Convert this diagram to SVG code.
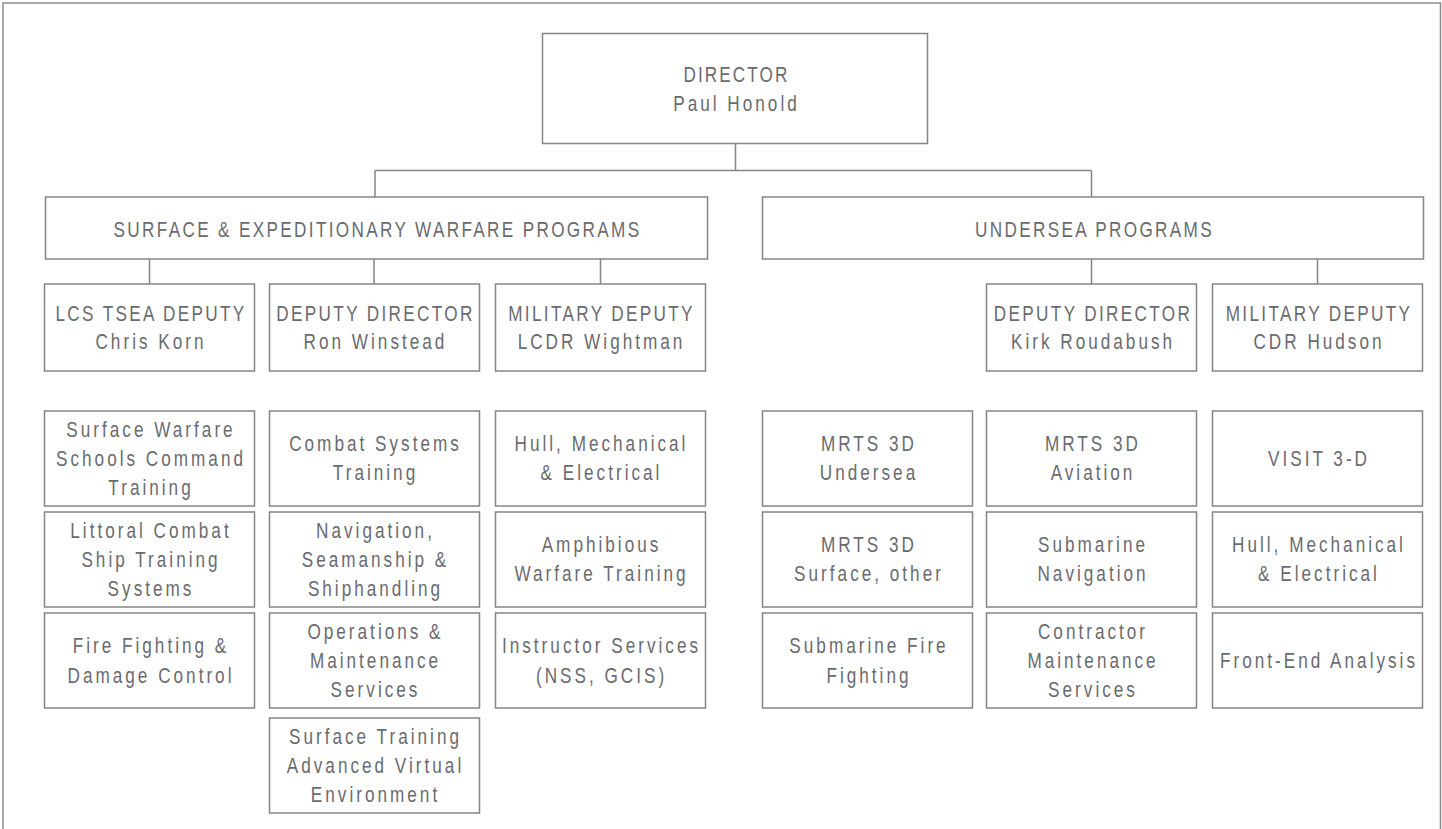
<svg xmlns="http://www.w3.org/2000/svg" width="1442" height="829" viewBox="0 0 1442 829">
<style>
.b{fill:#fff;stroke:#858585;stroke-width:1.5}
.c{fill:none;stroke:#858585;stroke-width:1.5}
.f{fill:none;stroke:#8c8c8c;stroke-width:1.5}
text{font-family:"Liberation Sans",Arial,sans-serif;font-size:22px;fill:#6a6b6f;text-anchor:middle;letter-spacing:3.85px}
.k{letter-spacing:3px}
.d{letter-spacing:2.7px}
</style>
<rect width="1442" height="829" fill="#fff"/>
<path class="f" d="M3,840 V3 H1440.5 V840"/>
<g id="connectors">
<path class="c" d="M735.5,143 V170.5 M375,170.5 H1091.5 M375,170.5 V197 M1091.5,170.5 V197"/>
<path class="c" d="M149.5,259 V284 M374,259 V284 M600.5,259 V284 M1091.5,259 V284 M1317.5,259 V284"/>
</g>
<g id="director"><rect class="b" x="542.5" y="33.5" width="385" height="110"/><text transform="translate(736.5 0) scale(.78 1)"><tspan class="d" x="0" y="82.5">DIRECTOR</tspan><tspan x="0" y="111">Paul Honold</tspan></text></g>
<g id="surface"><rect class="b" x="45.5" y="197" width="662" height="62"/><text class="k" transform="translate(377.5 0) scale(.78 1)"><tspan x="0" y="237.5">SURFACE &amp; EXPEDITIONARY WARFARE PROGRAMS</tspan></text></g>
<g id="undersea"><rect class="b" x="762.5" y="197" width="661" height="62"/><text class="k" transform="translate(1094.5 0) scale(.78 1)"><tspan x="0" y="237.5">UNDERSEA PROGRAMS</tspan></text></g>

<g id="lcs"><rect class="b" x="44.5" y="284" width="210" height="87"/><text transform="translate(151 0) scale(.78 1)"><tspan class="k" x="0" y="321.5">LCS TSEA DEPUTY</tspan><tspan x="0" y="349.5">Chris Korn</tspan></text></g>
<g id="dd-surface"><rect class="b" x="269.5" y="284" width="210" height="87"/><text transform="translate(375.5 0) scale(.78 1)"><tspan class="k" x="0" y="321.5">DEPUTY DIRECTOR</tspan><tspan x="0" y="349.5">Ron Winstead</tspan></text></g>
<g id="md-surface"><rect class="b" x="495.5" y="284" width="210" height="87"/><text transform="translate(601.5 0) scale(.78 1)"><tspan class="k" x="0" y="321.5">MILITARY DEPUTY</tspan><tspan x="0" y="349.5">LCDR Wightman</tspan></text></g>
<g id="dd-undersea"><rect class="b" x="986.5" y="284" width="210" height="87"/><text transform="translate(1093 0) scale(.78 1)"><tspan class="k" x="0" y="321.5">DEPUTY DIRECTOR</tspan><tspan x="0" y="349.5">Kirk Roudabush</tspan></text></g>
<g id="md-undersea"><rect class="b" x="1212.5" y="284" width="210" height="87"/><text transform="translate(1319 0) scale(.78 1)"><tspan class="k" x="0" y="321.5">MILITARY DEPUTY</tspan><tspan x="0" y="349.5">CDR Hudson</tspan></text></g>

<g id="swsc"><rect class="b" x="44.5" y="411" width="210" height="95"/><text transform="translate(151 0) scale(.78 1)"><tspan x="0" y="437">Surface Warfare</tspan><tspan x="0" y="466">Schools Command</tspan><tspan x="0" y="495">Training</tspan></text></g>
<g id="lcst"><rect class="b" x="44.5" y="512" width="210" height="95"/><text transform="translate(151 0) scale(.78 1)"><tspan x="0" y="538">Littoral Combat</tspan><tspan x="0" y="567">Ship Training</tspan><tspan x="0" y="596">Systems</tspan></text></g>
<g id="ffdc"><rect class="b" x="44.5" y="613" width="210" height="95"/><text transform="translate(151 0) scale(.78 1)"><tspan x="0" y="653.5">Fire Fighting &amp;</tspan><tspan x="0" y="682.5">Damage Control</tspan></text></g>

<g id="cst"><rect class="b" x="269.5" y="411" width="210" height="95"/><text transform="translate(375.5 0) scale(.78 1)"><tspan x="0" y="451.5">Combat Systems</tspan><tspan x="0" y="480.5">Training</tspan></text></g>
<g id="nss"><rect class="b" x="269.5" y="512" width="210" height="95"/><text transform="translate(375.5 0) scale(.78 1)"><tspan x="0" y="538">Navigation,</tspan><tspan x="0" y="567">Seamanship &amp;</tspan><tspan x="0" y="596">Shiphandling</tspan></text></g>
<g id="oms"><rect class="b" x="269.5" y="613" width="210" height="95"/><text transform="translate(375.5 0) scale(.78 1)"><tspan x="0" y="639">Operations &amp;</tspan><tspan x="0" y="668">Maintenance</tspan><tspan x="0" y="697">Services</tspan></text></g>
<g id="stave"><rect class="b" x="269.5" y="718" width="210" height="95"/><text transform="translate(375.5 0) scale(.78 1)"><tspan x="0" y="744">Surface Training</tspan><tspan x="0" y="773">Advanced Virtual</tspan><tspan x="0" y="802">Environment</tspan></text></g>

<g id="hme-s"><rect class="b" x="495.5" y="411" width="210" height="95"/><text transform="translate(601.5 0) scale(.78 1)"><tspan x="0" y="451.5">Hull, Mechanical</tspan><tspan x="0" y="480.5">&amp; Electrical</tspan></text></g>
<g id="awt"><rect class="b" x="495.5" y="512" width="210" height="95"/><text transform="translate(601.5 0) scale(.78 1)"><tspan x="0" y="552.5">Amphibious</tspan><tspan x="0" y="581.5">Warfare Training</tspan></text></g>
<g id="isv"><rect class="b" x="495.5" y="613" width="210" height="95"/><text transform="translate(601.5 0) scale(.78 1)"><tspan x="0" y="653.5">Instructor Services</tspan><tspan x="0" y="682.5">(NSS, GCIS)</tspan></text></g>

<g id="mrts-u"><rect class="b" x="762.5" y="411" width="210" height="95"/><text transform="translate(869 0) scale(.78 1)"><tspan x="0" y="451.5">MRTS 3D</tspan><tspan x="0" y="480.5">Undersea</tspan></text></g>
<g id="mrts-s"><rect class="b" x="762.5" y="512" width="210" height="95"/><text transform="translate(869 0) scale(.78 1)"><tspan x="0" y="552.5">MRTS 3D</tspan><tspan x="0" y="581.5">Surface, other</tspan></text></g>
<g id="sff"><rect class="b" x="762.5" y="613" width="210" height="95"/><text transform="translate(869 0) scale(.78 1)"><tspan x="0" y="653.5">Submarine Fire</tspan><tspan x="0" y="682.5">Fighting</tspan></text></g>

<g id="mrts-a"><rect class="b" x="986.5" y="411" width="210" height="95"/><text transform="translate(1093 0) scale(.78 1)"><tspan x="0" y="451.5">MRTS 3D</tspan><tspan x="0" y="480.5">Aviation</tspan></text></g>
<g id="snav"><rect class="b" x="986.5" y="512" width="210" height="95"/><text transform="translate(1093 0) scale(.78 1)"><tspan x="0" y="552.5">Submarine</tspan><tspan x="0" y="581.5">Navigation</tspan></text></g>
<g id="cms"><rect class="b" x="986.5" y="613" width="210" height="95"/><text transform="translate(1093 0) scale(.78 1)"><tspan x="0" y="639">Contractor</tspan><tspan x="0" y="668">Maintenance</tspan><tspan x="0" y="697">Services</tspan></text></g>

<g id="visit"><rect class="b" x="1212.5" y="411" width="210" height="95"/><text transform="translate(1319 0) scale(.78 1)"><tspan x="0" y="466">VISIT 3-D</tspan></text></g>
<g id="hme-u"><rect class="b" x="1212.5" y="512" width="210" height="95"/><text transform="translate(1319 0) scale(.78 1)"><tspan x="0" y="552.5">Hull, Mechanical</tspan><tspan x="0" y="581.5">&amp; Electrical</tspan></text></g>
<g id="fea"><rect class="b" x="1212.5" y="613" width="210" height="95"/><text transform="translate(1319 0) scale(.78 1)"><tspan x="0" y="668">Front-End Analysis</tspan></text></g>
</svg>
